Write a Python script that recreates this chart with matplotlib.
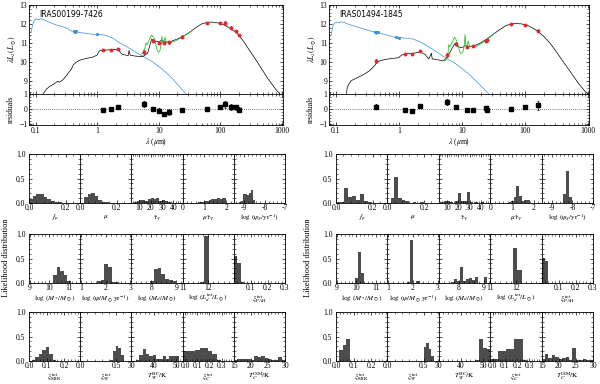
import matplotlib
matplotlib.use('Agg')
import matplotlib.pyplot as plt
from matplotlib.ticker import FixedLocator, FixedFormatter, AutoMinorLocator, MultipleLocator, NullFormatter

plt.rcParams['font.family'] = 'serif'
plt.rcParams['font.serif'] = ['Liberation Serif', 'DejaVu Serif']
plt.rcParams['mathtext.fontset'] = 'stix'
plt.rcParams['font.size'] = 5.5
for a in ('xtick', 'ytick'):
    plt.rcParams[a + '.direction'] = 'in'
    plt.rcParams[a + '.major.size'] = 2.5
    plt.rcParams[a + '.minor.size'] = 1.3
    plt.rcParams[a + '.major.width'] = 0.5
    plt.rcParams[a + '.minor.width'] = 0.4
    plt.rcParams[a + '.major.pad'] = 1.2
plt.rcParams['xtick.top'] = True
plt.rcParams['ytick.right'] = True
plt.rcParams['axes.linewidth'] = 0.6

# ---------------- SED data (wavelength in micron, log lambda*L_lambda in Lsun) ----------------
l_name = 'IRAS00199-7426'
l_blue_wl = [0.078, 0.085, 0.09, 0.096, 0.102, 0.113, 0.124, 0.14, 0.169, 0.216, 0.277, 0.335,
             0.379, 0.429, 0.517, 0.664, 0.851, 1.025, 1.4, 1.91, 2.3, 2.96, 3.8, 5.48, 8.0,
             13.1, 16.9, 23.0, 27.8]
l_blue_lum = [11.5, 11.6, 12.0, 12.2, 12.28, 12.22, 12.28, 12.2, 12.08, 11.95, 11.85, 11.75,
              11.62, 11.6, 11.55, 11.5, 11.45, 11.45, 11.4, 11.2, 11.0, 10.82, 10.6, 10.3, 10.0,
              9.45, 9.1, 8.6, 8.3]
l_black_wl = [0.132, 0.149, 0.169, 0.203, 0.23, 0.245, 0.277, 0.314, 0.356, 0.379, 0.413, 0.456,
              0.517, 0.664, 0.851, 0.99, 1.09, 1.4, 1.91, 2.25, 2.54, 2.96, 3.2, 3.3, 3.45, 4.2,
              5.48, 6.6, 7.7, 8.6, 10.0, 11.3, 12.5, 15.0, 20.0, 25.0, 30.0, 40.0, 50.0, 60.0,
              70.0, 90.0, 110.0, 140.0, 170.0, 200.0, 250.0, 300.0, 400.0, 500.0, 600.0, 700.0,
              800.0, 1000.0, 1100.0]
l_black_lum = [8.3, 8.55, 8.7, 8.85, 8.98, 8.92, 9.05, 9.25, 9.5, 9.6, 9.85, 9.98,
               10.08, 10.18, 10.25, 10.35, 10.58, 10.62, 10.66, 10.6, 10.4, 10.35, 10.33, 10.6,
               10.35, 10.3, 10.27, 10.45, 11.2, 11.1, 11.05, 11.15, 11.05, 11.05, 11.2, 11.35,
               11.5, 11.8, 12.0, 12.08, 12.1, 12.06, 11.98, 11.8, 11.62, 11.42, 11.0, 10.6, 10.0,
               9.5, 9.1, 8.8, 8.55, 8.2, 8.05]
l_green_wl = [5.2, 5.6, 6.0, 6.2, 6.5, 7.0, 7.7, 8.2, 8.6, 9.0, 9.5, 10.0, 10.5, 11.0, 11.3,
              11.6, 12.2, 12.7, 13.2, 14.0, 16.0, 18.0, 20.0, 24.0, 28.0, 33.0]
l_green_lum = [10.4, 10.5, 10.75, 11.0, 10.9, 11.15, 11.42, 11.3, 11.2, 10.9, 10.6, 10.5, 10.6,
               10.95, 11.35, 11.0, 11.1, 11.3, 11.05, 11.0, 11.02, 11.08, 11.15, 11.3, 11.45, 11.58]
l_phot_wl = [1.25, 1.65, 2.17, 5.8, 8.0, 10.0, 12.0, 15.0, 24.0, 60.0, 100.0, 120.0, 150.0, 180.0, 200.0]
l_phot_lum = [10.6, 10.62, 10.67, 10.5, 11.12, 11.0, 10.98, 11.02, 11.33, 12.07, 12.03, 12.05,
              11.8, 11.62, 11.42]
l_phot_err = [0.03, 0.03, 0.03, 0.1, 0.08, 0.08, 0.06, 0.08, 0.06, 0.03, 0.05, 0.1, 0.08, 0.07, 0.07]
l_res_val = [-0.05, -0.03, 0.15, 0.3, 0.0, -0.12, -0.35, -0.22, -0.05, 0.0, 0.15, 0.3, 0.12, 0.1, -0.05]
l_res_err = [0.05, 0.05, 0.05, 0.2, 0.12, 0.2, 0.12, 0.2, 0.12, 0.05, 0.08, 0.25, 0.2, 0.15, 0.15]
l_uv_wl = [0.42, 0.44, 0.46, 1.0]
l_uv_lum = [11.62, 11.58, 11.64, 11.45]
l_uv_err = [0.05, 0.06, 0.05, 0.04]

r_name = 'IRAS01494-1845'
r_blue_wl = [0.078, 0.085, 0.09, 0.096, 0.105, 0.113, 0.12, 0.135, 0.16, 0.2, 0.25, 0.3, 0.38,
             0.45, 0.55, 0.7, 0.85, 1.0, 1.3, 1.7, 2.2, 2.8, 3.5, 5.0, 8.0, 13.0, 18.0, 25.0, 27.0]
r_blue_lum = [11.33, 11.45, 11.9, 12.05, 12.1, 12.05, 12.12, 12.08, 11.98, 11.88, 11.78, 11.7,
              11.6, 11.55, 11.48, 11.38, 11.3, 11.28, 11.25, 11.2, 11.05, 10.85, 10.65, 10.3, 9.9,
              9.35, 8.9, 8.4, 8.3]
r_black_wl = [0.148, 0.152, 0.16, 0.175, 0.2, 0.23, 0.26, 0.3, 0.35, 0.4, 0.45, 0.5, 0.6, 0.8,
              1.0, 1.1, 1.3, 1.7, 2.2, 2.6, 3.0, 3.3, 3.4, 4.0, 5.0, 5.8, 6.5, 7.7, 8.6, 10.0,
              11.3, 13.0, 16.0, 20.0, 25.0, 30.0, 40.0, 50.0, 60.0, 75.0, 90.0, 110.0, 140.0,
              170.0, 200.0, 250.0, 300.0, 400.0, 500.0, 700.0, 900.0, 1100.0]
r_black_lum = [8.3, 8.65, 8.8, 9.0, 9.1, 9.2, 9.28, 9.4, 9.55, 9.75, 9.95, 10.05, 10.12, 10.18,
               10.22, 10.35, 10.42, 10.45, 10.52, 10.4, 10.15, 10.45, 10.15, 10.12, 10.05, 10.2,
               10.5, 10.95, 10.8, 10.75, 10.85, 10.8, 10.85, 11.0, 11.2, 11.4, 11.7, 11.9, 12.0,
               12.02, 12.0, 11.93, 11.75, 11.55, 11.35, 11.0, 10.65, 10.05, 9.6, 8.9, 8.45, 8.2]
r_green_wl = [5.2, 5.6, 6.0, 6.2, 6.5, 7.0, 7.7, 8.2, 8.6, 9.0, 9.5, 10.0, 10.5, 11.0, 11.3,
              11.6, 12.2, 12.7, 13.2, 14.0, 16.0, 18.0, 20.0, 24.0, 28.0, 33.0]
r_green_lum = [10.05, 10.1, 10.3, 10.9, 10.8, 11.0, 11.3, 11.15, 10.95, 10.7, 10.45, 10.45, 10.55,
               10.9, 11.45, 10.9, 10.85, 11.1, 10.85, 10.8, 10.8, 10.85, 10.95, 11.12, 11.3, 11.5]
r_phot_wl = [0.44, 1.25, 1.65, 2.17, 5.8, 8.0, 12.0, 15.0, 24.0, 25.0, 60.0, 100.0, 160.0]
r_phot_lum = [10.05, 10.43, 10.42, 10.55, 10.35, 10.95, 10.8, 10.82, 11.12, 11.17, 12.0, 11.93, 11.63]
r_phot_err = [0.12, 0.03, 0.03, 0.03, 0.1, 0.08, 0.06, 0.04, 0.06, 0.06, 0.03, 0.04, 0.08]
r_res_val = [0.15, -0.08, -0.12, 0.2, 0.45, 0.12, -0.1, -0.08, 0.05, -0.05, -0.03, 0.12, 0.25]
r_res_err = [0.15, 0.05, 0.05, 0.05, 0.2, 0.12, 0.15, 0.05, 0.15, 0.1, 0.05, 0.08, 0.3]
r_uv_wl = [0.42, 0.44, 0.46, 0.9, 1.0]
r_uv_lum = [11.58, 11.55, 11.6, 11.3, 11.28]
r_uv_err = [0.06, 0.07, 0.05, 0.04, 0.04]

# ---------------- likelihood histograms (row by row, 5 panels per row) ----------------
hist_labels = [r'$f_\mu$', r'$\mu$', r'$\hat{\tau}_V$', r'$\mu\hat{\tau}_V$',
               r'$\log\,(\psi_S/\mathrm{yr}^{-1})$',
               r'$\log\,(M_*/M_\odot)$', r'$\log\,(\psi/M_\odot\,\mathrm{yr}^{-1})$',
               r'$\log\,(M_d/M_\odot)$', r'$\log\,(L_d^{\rm tot}/L_\odot)$', r'$\xi_{\rm PAH}^{\rm tot}$',
               r'$\xi_{\rm MIR}^{\rm tot}$', r'$\xi_W^{\rm tot}$', r'$T_W^{\rm BC}/\mathrm{K}$',
               r'$\xi_C^{\rm tot}$', r'$T_C^{\rm ISM}/\mathrm{K}$']
hist_xlims = [(0, 0.28), (0, 0.28), (3, 48), (0, 2.35), (-9.5, -7),
              (8.95, 11.6), (0.97, 3.04), (7.2, 9.25), (11, 13), (0, 0.3),
              (0, 0.29), (0, 0.71), (30, 53), (-0.02, 0.4), (15, 30)]
hist_ticks = [['0.0', '0.2'], ['0.0', '0.2'], ['10', '20', '30', '40'], ['0', '1', '2'], ['-9', '-8', '-7'],
              ['9', '10', '11'], ['1', '2', '3'], ['8', '9'], ['11', '12'], ['0.1', '0.2', '0.3'],
              ['0.0', '0.1', '0.2'], ['0.0', '0.5'], ['30', '40', '50'], ['0.0', '0.1', '0.2', '0.3'],
              ['15', '20', '25', '30']]

l_bin_start = [0.0, 0.0, 5.0, 0.6, -9.35, 10.2, 1.5, 7.95, 11.68, 0.0, 0.015, 0.41, 32.0, -0.02, 15.0]
l_bin_width = [0.02, 0.02, 2.5, 0.1, 0.1, 0.18, 0.15, 0.15, 0.17, 0.02, 0.02, 0.04, 1.5, 0.035, 1.0]
l_heights = [
    [0.08, 0.15, 0.19, 0.19, 0.13, 0.08, 0.05, 0.03, 0.02, 0.01, 0.01],
    [0.0, 0.13, 0.18, 0.2, 0.14, 0.06, 0.03, 0.02, 0.01, 0.01],
    [0.03, 0.05, 0.07, 0.06, 0.05, 0.08, 0.1, 0.08, 0.11, 0.05, 0.06, 0.04, 0.02, 0.01, 0.01],
    [0.01, 0.02, 0.02, 0.03, 0.04, 0.05, 0.06, 0.08, 0.09, 0.09, 0.1, 0.08, 0.1, 0.11],
    [0.01, 0.03, 0.05, 0.18, 0.19, 0.17, 0.2, 0.26, 0.07],
    [0.16, 0.33, 0.25, 0.16, 0.05],
    [0.01, 0.05, 0.07, 0.39, 0.33, 0.03, 0.02, 0.01],
    [0.05, 0.28, 0.3, 0.18, 0.09, 0.07, 0.04],
    [0.02, 0.96],
    [0.55, 0.4, 0.02],
    [0.02, 0.08, 0.15, 0.22, 0.28, 0.15, 0.02],
    [0.03, 0.2, 0.3, 0.27, 0.12],
    [0.03, 0.12, 0.25, 0.15, 0.1, 0.12, 0.05, 0.05, 0.1, 0.05, 0.1, 0.1, 0.1],
    [0.2, 0.2, 0.2, 0.22, 0.26, 0.26, 0.2, 0.15, 0.03],
    [0.03, 0.04, 0.04, 0.05, 0.05, 0.03, 0.1, 0.08, 0.11, 0.06, 0.05, 0.03, 0.03, 0.08, 0.02],
]
r_bin_start = [0.0, 0.018, 5.0, 0.0, -8.45, 9.95, 1.75, 7.7, 11.87, 0.0, 0.015, 0.5, 46.0, -0.02, 15.0]
r_bin_width = [0.022, 0.02, 2.5, 0.12, 0.15, 0.15, 0.13, 0.12, 0.18, 0.02, 0.022, 0.035, 1.8, 0.033, 1.0]
r_heights = [
    [0.02, 0.03, 0.3, 0.12, 0.15, 0.07, 0.18, 0.05, 0.02, 0.01],
    [0.1, 0.54, 0.1, 0.06, 0.04, 0.0, 0.02, 0.0, 0.02],
    [0.02, 0.05, 0.04, 0.02, 0.01, 0.05, 0.2, 0.04, 0.05, 0.22, 0.03, 0.01, 0.02, 0.01, 0.03],
    [0.01, 0.0, 0.0, 0.0, 0.0, 0.0, 0.0, 0.02, 0.05, 0.13, 0.35, 0.15, 0.05, 0.07, 0.06],
    [0.18, 0.65, 0.12],
    [0.1, 0.63, 0.2],
    [0.02, 0.87, 0.01, 0.04],
    [0.03, 0.09, 0.05, 0.33, 0.05, 0.09, 0.1, 0.06, 0.12, 0.0, 0.0, 0.13],
    [0.71, 0.27],
    [0.52, 0.45],
    [0.22, 0.32, 0.45],
    [0.28, 0.36, 0.24, 0.1],
    [0.02, 0.45, 0.27, 0.25],
    [0.05, 0.05, 0.2, 0.2, 0.25, 0.25, 0.45, 0.45, 0.02],
    [0.05, 0.15, 0.06, 0.12, 0.09, 0.05, 0.07, 0.09, 0.03, 0.27, 0.02, 0.02, 0.05, 0.03, 0.02],
]

W, H = 600, 384
fig = plt.figure(figsize=(6, 3.84), dpi=100)


def box(x0, y_top, w, h):
    # pixel box -> figure fraction
    return [x0 / W, 1 - (y_top + h) / H, w / W, h / H]


def draw_sed(left, width, name, blue, black, green, phot, uv, res):
    ax = fig.add_axes(box(left, 5, width, 89))
    axr = fig.add_axes(box(left, 94, width, 31), sharex=ax)
    ax.plot(blue[0], blue[1], color='#3d8fd6', lw=0.5)
    ax.plot(black[0], black[1], color='k', lw=0.5)
    ax.plot(green[0], green[1], color='#2ec02e', lw=0.6)
    ax.errorbar(uv[0], uv[1], yerr=uv[2], fmt='o', ms=1.2, color='#3d8fd6',
                elinewidth=0.5, capsize=0.6, capthick=0.4)
    ax.errorbar(phot[0], phot[1], yerr=phot[2], fmt='o', ms=1.8, color='#e3262f',
                elinewidth=0.5, capsize=0.8, capthick=0.5)
    ax.text(0.04, 0.89, name, transform=ax.transAxes, family='DejaVu Sans', fontsize=5.5, va='center')
    ax.set_xscale('log')
    ax.set_xlim(0.078, 1050)
    ax.set_ylim(8.3, 13)
    ax.yaxis.set_major_locator(MultipleLocator(1))
    ax.yaxis.set_minor_locator(MultipleLocator(0.2))
    ax.set_ylabel(r'$\lambda L_\lambda(L_\odot)$', labelpad=1)
    ax.tick_params(axis='x', which='both', labelbottom=False)

    axr.axhline(0, color='k', lw=0.5, ls=(0, (1, 2)))
    axr.errorbar(phot[0], res[0], yerr=res[1], fmt='s', ms=2.2, color='k',
                 elinewidth=0.5, capsize=0.8, capthick=0.5)
    axr.set_ylim(-1.1, 1)
    axr.yaxis.set_major_locator(FixedLocator([-1, 0, 1]))
    axr.yaxis.set_minor_locator(MultipleLocator(0.2))
    axr.set_ylabel('residuals', labelpad=3)
    axr.xaxis.set_major_locator(FixedLocator([0.1, 1, 10, 100, 1000]))
    axr.xaxis.set_major_formatter(FixedFormatter(['0.1', '1', '10', '100', '1000']))
    axr.xaxis.set_minor_formatter(NullFormatter())
    axr.set_xlabel(r'$\lambda$ ($\mu$m)', labelpad=1)


def draw_hists(left, width, starts, widths, heights, ylab_x):
    tops = [154, 234, 312]
    for i in range(15):
        row, col = divmod(i, 5)
        ax = fig.add_axes(box(left + col * width, tops[row], width, 49))
        xs = [starts[i] + k * widths[i] for k in range(len(heights[i]))]
        ax.bar(xs, heights[i], width=widths[i], align='edge', color='#4d4d4d', lw=0)
        ax.set_xlim(*hist_xlims[i])
        ax.set_ylim(0, 1)
        tv = [float(t) for t in hist_ticks[i]]
        ax.xaxis.set_major_locator(FixedLocator(tv))
        ax.xaxis.set_major_formatter(FixedFormatter(hist_ticks[i]))
        ax.xaxis.set_minor_locator(AutoMinorLocator(5))
        ax.yaxis.set_major_locator(FixedLocator([0, 0.5, 1.0]))
        ax.yaxis.set_minor_locator(MultipleLocator(0.1))
        ax.tick_params(axis='x', pad=1)
        ax.tick_params(axis='y', pad=2.5)
        if col == 0:
            ax.yaxis.set_major_formatter(FixedFormatter(['0.0', '0.5', '1.0']))
        else:
            ax.tick_params(axis='y', labelleft=False)
        ax.set_xlabel(hist_labels[i], labelpad=0.5, fontsize=5.2)
    fig.text(ylab_x / W, 1 - 258 / H, 'Likelihood distribution', rotation=90,
             ha='center', va='center', fontsize=6)


draw_sed(29, 254, l_name, (l_blue_wl, l_blue_lum), (l_black_wl, l_black_lum),
         (l_green_wl, l_green_lum), (l_phot_wl, l_phot_lum, l_phot_err),
         (l_uv_wl, l_uv_lum, l_uv_err), (l_res_val, l_res_err))
draw_sed(329, 260, r_name, (r_blue_wl, r_blue_lum), (r_black_wl, r_black_lum),
         (r_green_wl, r_green_lum), (r_phot_wl, r_phot_lum, r_phot_err),
         (r_uv_wl, r_uv_lum, r_uv_err), (r_res_val, r_res_err))
draw_hists(29, 51.2, l_bin_start, l_bin_width, l_heights, 6)
draw_hists(336, 51.4, r_bin_start, r_bin_width, r_heights, 308)

fig.savefig('out.png', dpi=100)
